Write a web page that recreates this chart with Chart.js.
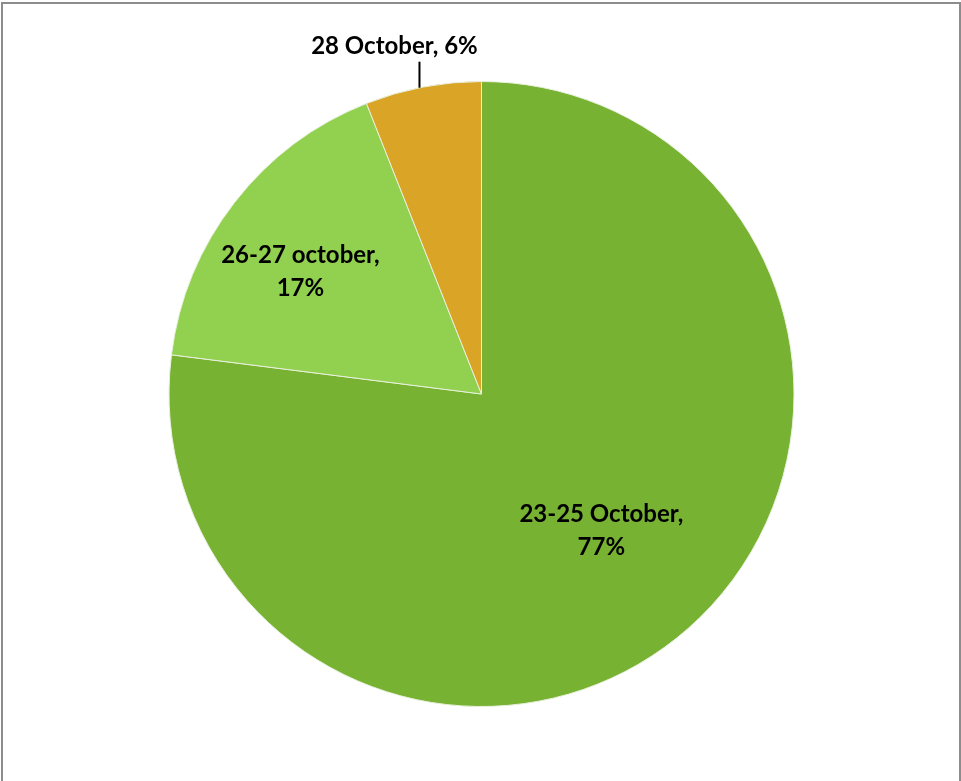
<!DOCTYPE html>
<html>
<head>
<meta charset="utf-8">
<script src="https://cdn.jsdelivr.net/npm/chart.js@4.4.1/dist/chart.umd.min.js"></script>
<style>
  html, body { margin: 0; padding: 0; background: #fff; overflow: hidden; }
  #frame {
    position: absolute; left: 1px; top: 2px; width: 960px; height: 800px;
    border: 2px solid #8c8c8c; box-sizing: border-box;
  }
  #wrap { position: absolute; left: 0; top: 0; width: 961px; height: 781px; }
</style>
</head>
<body>
<div id="frame"></div>
<div id="wrap"><canvas id="chart"></canvas></div>
<script>
// Share of responses by period
const periods = ['23-25 October', '26-27 october', '28 October'];
const shares = [77, 17, 6];
const sliceColors = ['#78B232', '#92D050', '#DAA526'];

// Label placement per slice: radial fraction, position within the slice's angle span
const labelRadius = [0.58, 0.70, 1.0];
const labelSpan = [0.5, 0.44, 0.47];
const labelOutside = [false, false, true];

const FONT = 'bold 24px Lato, "Open Sans", sans-serif';

const pieLabels = {
  id: 'pieLabels',
  afterDatasetsDraw(chart) {
    const ctx = chart.ctx;
    const arcs = chart.getDatasetMeta(0).data;
    ctx.save();
    ctx.font = FONT;
    ctx.fillStyle = '#000';
    ctx.textAlign = 'center';
    ctx.textBaseline = 'middle';
    arcs.forEach((arc, i) => {
      const p = arc.getProps(['x', 'y', 'startAngle', 'endAngle', 'outerRadius'], true);
      const a = p.startAngle + (p.endAngle - p.startAngle) * labelSpan[i];
      const r = p.outerRadius * labelRadius[i];
      const x = p.x + Math.cos(a) * r;
      const y = p.y + Math.sin(a) * r;
      const text = periods[i] + ', ' + shares[i] + '%';
      if (labelOutside[i]) {
        // leader line straight up from the rim, label above it
        ctx.strokeStyle = '#000';
        ctx.lineWidth = 2;
        ctx.beginPath();
        ctx.moveTo(x, y);
        ctx.lineTo(x, y - 26);
        ctx.stroke();
        ctx.fillText(text, x - 25, y - 41);
      } else {
        ctx.fillText(periods[i] + ',', x, y - 16);
        ctx.fillText(shares[i] + '%', x, y + 17);
      }
    });
    ctx.restore();
  }
};

new Chart(document.getElementById('chart'), {
  type: 'pie',
  data: {
    labels: periods,
    datasets: [{
      data: shares,
      backgroundColor: sliceColors,
      borderColor: '#e8f0dc',
      borderWidth: 1
    }]
  },
  options: {
    responsive: true,
    maintainAspectRatio: false,
    animation: false,
    layout: { padding: { left: 2, right: 0, top: 81, bottom: 74 } },
    plugins: {
      legend: { display: false },
      tooltip: { enabled: false }
    }
  },
  plugins: [pieLabels]
});
</script>
</body>
</html>
